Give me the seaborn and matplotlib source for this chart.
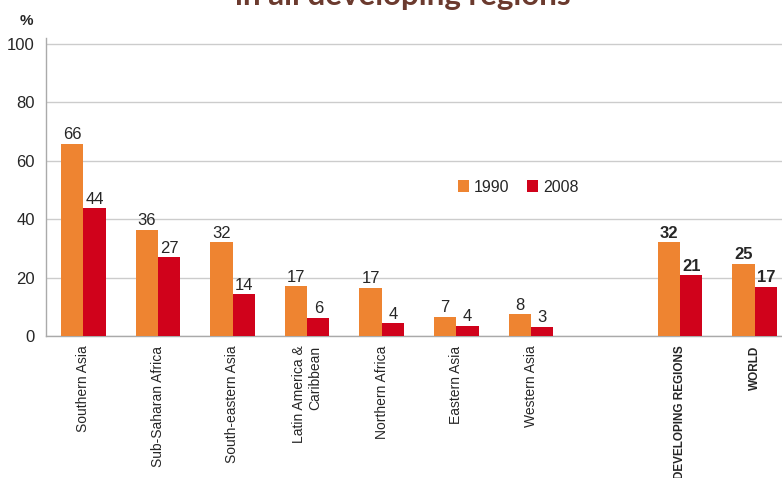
import numpy as np
import pandas as pd
import matplotlib.pyplot as plt
import seaborn as sns

# data
regions = ['Southern Asia', 'Sub-Saharan Africa', 'South-eastern Asia',
           'Latin America &\nCaribbean', 'Northern Africa', 'Eastern Asia',
           'Western Asia', '', 'DEVELOPING REGIONS', 'WORLD']
val_1990 = [65.8, 36.4, 32.2, 17.1, 16.6, 6.6, 7.5, np.nan, 32.1, 24.8]
val_2008 = [43.8, 27.0, 14.4, 6.3, 4.4, 3.5, 3.2, np.nan, 20.8, 16.9]
years = ['1990', '2008']

df = pd.DataFrame({
    'region': regions * 2,
    'year': [years[0]] * len(regions) + [years[1]] * len(regions),
    'value': val_1990 + val_2008,
})

sns.set_style('white')
plt.rcParams['font.family'] = ['Liberation Sans', 'DejaVu Sans']

fig = plt.figure(figsize=(7.82, 4.78), dpi=100)
ax = fig.add_axes([46 / 782, 142 / 478, 746 / 782, 298 / 478])

sns.barplot(data=df, x='region', y='value', hue='year', order=regions,
            hue_order=years, palette=['#ee8431', '#d0021b'], width=0.6,
            saturation=1, linewidth=0, ax=ax, zorder=3)

ax.set_ylim(0, 102)
ax.set_xlim(-0.5, len(regions) - 0.5)
ax.set_yticks(range(0, 101, 20))
ax.yaxis.grid(True, color='#cccccc', linewidth=1, zorder=0)
ax.set_axisbelow(True)
ax.set_xlabel('')
ax.set_ylabel('')

for s in ['top', 'right']:
    ax.spines[s].set_visible(False)
for s in ['left', 'bottom']:
    ax.spines[s].set_color('#aaaaaa')
    ax.spines[s].set_linewidth(1)

ax.tick_params(axis='y', labelsize=12, length=5, color='#aaaaaa', pad=3)
ax.tick_params(axis='x', which='major', length=0, pad=7)
ax.set_xticks(np.arange(-0.5, len(regions)), minor=True)
ax.tick_params(axis='x', which='minor', length=5, color='#aaaaaa')

ax.set_xticks(range(len(regions)))
ax.set_xticklabels(regions, rotation=90, fontsize=10, va='top', ha='center',
                   multialignment='right')
for lab in ax.get_xticklabels():
    if lab.get_text() in ('DEVELOPING REGIONS', 'WORLD'):
        lab.set_fontweight('bold')
        lab.set_fontsize(8.5)

for cont in ax.containers:
    texts = ax.bar_label(cont, fmt='{:.0f}', padding=1, fontsize=12)
    for bar, t in zip(cont, texts):
        if bar.get_x() + bar.get_width() / 2 > 7.5:
            t.set_fontweight('bold')

leg = ax.legend(loc='center', bbox_to_anchor=(0.633, 0.5), ncol=2, frameon=False,
                fontsize=11.5, handlelength=0.7, handleheight=0.7,
                handletextpad=0.3, columnspacing=1.1)

fig.text(20 / 782, 1 - 21 / 478, '%', fontsize=11, fontweight='bold',
         ha='left', va='center')
fig.text(403 / 782, 1 - 5 / 478, 'in all developing regions', fontsize=22.5,
         fontweight='bold', color='#6b3a2e', ha='center', va='baseline',
         family=['Lato', 'DejaVu Sans'])

fig.savefig('out.png', dpi=100)
